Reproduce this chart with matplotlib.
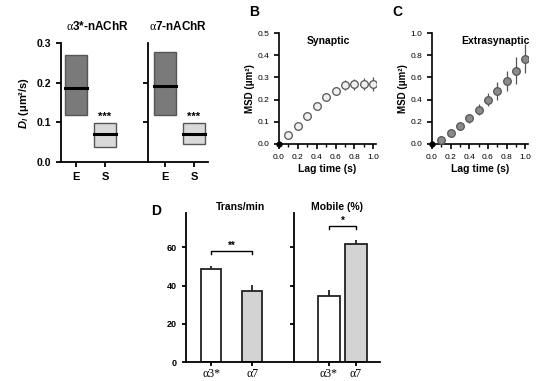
import numpy as np
import matplotlib
matplotlib.use("Agg")
import matplotlib.pyplot as plt
from matplotlib.patches import Rectangle

plt.rcParams['font.family'] = ['Liberation Sans', 'DejaVu Sans']
plt.rcParams['mathtext.fontset'] = 'custom'
plt.rcParams['mathtext.rm'] = 'Liberation Serif'
plt.rcParams['mathtext.it'] = 'Liberation Sans:italic:bold'
plt.rcParams['mathtext.bf'] = 'Liberation Sans:bold'

# panel A: diffusion coefficient boxes (low, median, high)
groups_a = ['E', 'S']
a3_low = [0.118, 0.037]
a3_med = [0.187, 0.070]
a3_high = [0.270, 0.098]
a7_low = [0.118, 0.045]
a7_med = [0.192, 0.070]
a7_high = [0.277, 0.098]

# panel B / C: MSD curves
lag = [0.0, 0.1, 0.2, 0.3, 0.4, 0.5, 0.6, 0.7, 0.8, 0.9, 1.0]
msd_syn = [0.0, 0.04, 0.08, 0.125, 0.17, 0.21, 0.24, 0.265, 0.27, 0.27, 0.27]
err_syn = [0.0, 0.008, 0.01, 0.012, 0.014, 0.016, 0.018, 0.022, 0.025, 0.028, 0.032]
msd_ext = [0.0, 0.04, 0.10, 0.16, 0.23, 0.31, 0.40, 0.48, 0.57, 0.66, 0.77]
err_ext = [0.0, 0.01, 0.02, 0.03, 0.04, 0.05, 0.06, 0.08, 0.09, 0.12, 0.13]

# panel D: bars
bar_labels = ['α3*', 'α7']
trans_min = [48.9, 37.4]
trans_err = [1.6, 2.8]
mobile = [34.7, 61.6]
mobile_err = [3.2, 2.4]

fig = plt.figure(figsize=(5.38, 3.81), dpi=100)
W, H = 538.0, 381.0


def ax_px(x0, x1, y0, y1):
    return fig.add_axes([x0 / W, 1 - y1 / H, (x1 - x0) / W, (y1 - y0) / H])


def style(ax, lw=1.3):
    for s in ['top', 'right']:
        ax.spines[s].set_visible(False)
    for s in ['left', 'bottom']:
        ax.spines[s].set_linewidth(lw)
    ax.tick_params(width=lw, length=3.5, direction='out')


# ---- panel A ----
a1 = ax_px(61, 148, 43, 162)
a2 = ax_px(148, 208, 43, 162)
for ax, low, med, high, xl in [(a1, a3_low, a3_med, a3_high, (-0.517, 2.483)),
                               (a2, a7_low, a7_med, a7_high, (-0.586, 1.483))]:
    style(ax)
    cols = ['#7a7a7a', '#d9d9d9']
    bw = 0.74
    for i in range(2):
        ax.add_patch(Rectangle((i - bw / 2, low[i]), bw, high[i] - low[i],
                               facecolor=cols[i], edgecolor='#555555', lw=1.0))
        ax.plot([i - bw / 2, i + bw / 2], [med[i], med[i]], color='black', lw=2.2)
    ax.text(1, high[1] + 0.004, '***', ha='center', va='bottom', fontsize=8, fontweight='bold')
    ax.set_xlim(*xl)
    ax.set_ylim(0, 0.3)
    ax.set_xticks([0, 1])
    ax.set_xticklabels(groups_a, fontsize=8, fontweight='bold')
a1.set_yticks([0, 0.1, 0.2, 0.3])
a1.set_yticklabels(['0.0', '0.1', '0.2', '0.3'], fontsize=7.5, fontweight='bold')
a1.set_ylabel(r'$\mathit{D_l}$ (μm²/s)', fontsize=8, fontweight='bold', labelpad=4)
a2.set_yticks([0.1, 0.2])
a2.set_yticklabels([])
a2.spines['left'].set_bounds(0, 0.3)
fig.text(97 / W, 1 - 27 / H, r'$\mathrm{\alpha}$3*-nAChR', ha='center', va='center',
         fontsize=8.5, fontweight='bold')
fig.text(178 / W, 1 - 27 / H, r'$\mathrm{\alpha}$7-nAChR', ha='center', va='center',
         fontsize=8.5, fontweight='bold')

# ---- panel B / C ----
b = ax_px(279, 376, 33, 144)
c = ax_px(432, 528, 33, 144)
for ax, y, e, ymax, face, title, tx in [
        (b, msd_syn, err_syn, 0.5, '#f0f0f0', 'Synaptic', 0.51),
        (c, msd_ext, err_ext, 1.0, '#8a8a8a', 'Extrasynaptic', 0.66)]:
    style(ax, 1.2)
    ax.errorbar(lag[1:], y[1:], yerr=e[1:], fmt='o', ms=5.5, mfc=face, mec='#555555',
                mew=0.9, ecolor='#555555', elinewidth=0.9, capsize=0, zorder=3)
    ax.plot([0], [0], marker='o', ms=3.5, color='black', clip_on=False, zorder=4)
    ax.set_xlim(0, 1.03)
    ax.set_ylim(0, ymax)
    ax.set_xticks([0, 0.2, 0.4, 0.6, 0.8, 1.0])
    ax.set_xticklabels(['0.0', '0.2', '0.4', '0.6', '0.8', '1.0'], fontsize=6)
    ax.set_xticks(np.arange(0.1, 1.0, 0.2), minor=True)
    ax.tick_params(which='minor', length=2, width=1.0)
    ax.set_xlabel('Lag time (s)', fontsize=7.5, fontweight='bold', labelpad=2)
    ax.set_ylabel('MSD (μm²)', fontsize=7, fontweight='bold', labelpad=2)
    ax.text(tx, 0.93, title, transform=ax.transAxes, ha='center', va='center',
            fontsize=7.5, fontweight='bold')
b.set_yticks([0, 0.1, 0.2, 0.3, 0.4, 0.5])
b.set_yticklabels(['0.0', '0.1', '0.2', '0.3', '0.4', '0.5'], fontsize=6)
c.set_yticks([0, 0.2, 0.4, 0.6, 0.8, 1.0])
c.set_yticklabels(['0.0', '0.2', '0.4', '0.6', '0.8', '1.0'], fontsize=6)

# ---- panel D ----
d1 = ax_px(186, 294, 213, 362)
d2 = ax_px(294, 380, 213, 362)
for ax, vals, errs, xl, bw, title, sig, sy in [
        (d1, trans_min, trans_err, (-0.61, 2.02), 0.49, 'Trans/min', '**', 58),
        (d2, mobile, mobile_err, (-1.296, 1.889), 0.78, 'Mobile (%)', '*', 71)]:
    style(ax)
    ax.tick_params(length=3)
    ax.bar([0, 1], vals, width=bw, color=['white', '#d3d3d3'], edgecolor='#222222', lw=1.3)
    ax.errorbar([0, 1], vals, yerr=[[0, 0], errs], fmt='none', ecolor='#222222',
                elinewidth=1.3, capsize=0)
    ax.plot([0, 0, 1, 1], [sy - 1.6, sy, sy, sy - 1.6], color='black', lw=1.0)
    ax.text(0.5, sy + 0.3, sig, ha='center', va='bottom', fontsize=7, fontweight='bold')
    ax.set_xlim(*xl)
    ax.set_ylim(0, 78)
    ax.set_xticks([0, 1])
    ax.set_xticklabels(bar_labels, fontsize=8.5, fontfamily='Liberation Serif')
    ax.tick_params(axis='x', pad=1)
    ax.set_title(title, fontsize=7.5, fontweight='bold', pad=2)
d1.set_yticks([0, 20, 40, 60])
d1.set_yticklabels(['0', '20', '40', '60'], fontsize=6.5, fontweight='bold')
d2.set_yticks([20, 40, 60])
d2.set_yticklabels([])

for lab, x, y in [('B', 254, 12), ('C', 397, 12), ('D', 156, 211)]:
    fig.text(x / W, 1 - y / H, lab, ha='center', va='center', fontsize=10, fontweight='bold')

fig.savefig('out.png', dpi=100)
